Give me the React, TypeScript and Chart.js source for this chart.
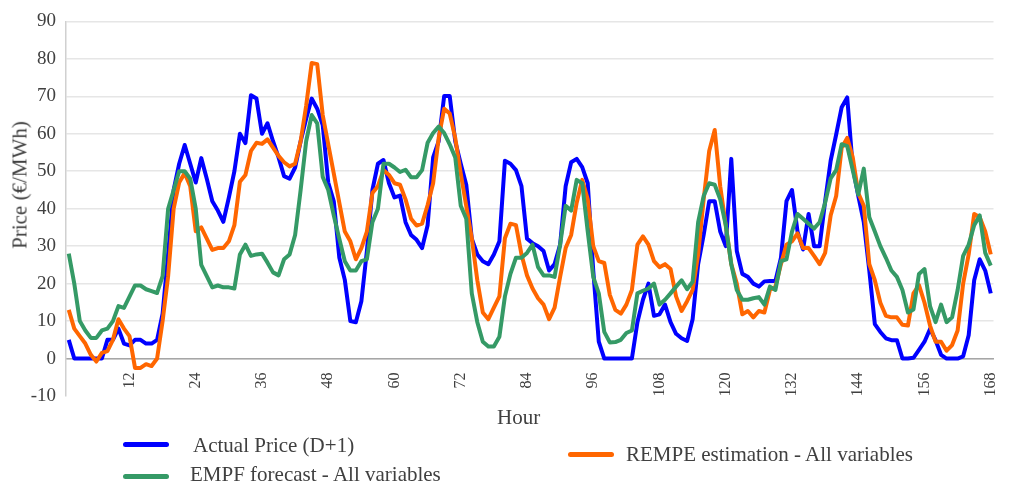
import React, { useEffect, useRef } from "react";
import { Chart, registerables } from "chart.js";

Chart.register(...registerables);

// hours 1..168 on the category axis
const hours = Array.from({ length: 168 }, (_, i) => String(i + 1));
const yTicks = [-10, 0, 10, 20, 30, 40, 50, 60, 70, 80, 90];

const actualPrice = [
  5, 0, 0, 0, 0, 0, 0, 5, 5, 8, 4, 3.5,
  5, 5, 4, 4, 5, 12, 28, 45, 52, 57, 52, 47,
  53.5, 48, 42, 39.5, 36.5, 43, 50, 60, 57.5, 70.3, 69.4, 60,
  62.8, 58, 53.7, 48.7, 48, 51, 58, 64, 69.4, 66.7, 62.3, 47,
  42, 27, 21, 10, 9.7, 15.3, 28.7, 45, 52, 53, 46.8, 43,
  43.5, 36.4, 33, 31.7, 29.5, 35.6, 53.7, 58, 70.1, 70.1, 58, 52,
  46.4, 32, 27.8, 26, 25.2, 27.8, 31.3, 52.8, 52, 50.3, 46, 32,
  30.8, 30, 28.7, 23.5, 25.2, 30.4, 46, 52.4, 53.3, 51.1, 46.8, 23.5,
  4.5, 0, 0, 0, 0, 0, 0, 9.7, 15.7, 20, 11.4, 11.8,
  14.4, 9.7, 6.6, 5.4, 4.7, 10.5, 25.2, 33, 42, 42, 33.9, 30,
  53.3, 28.7, 22.6, 21.8, 20, 19.2, 20.6, 20.7, 20.7, 26.9, 42, 45,
  33.9, 29.1, 38.6, 30, 30, 42, 52.8, 59.8, 67.1, 69.7, 51.1, 43.4,
  36.4, 23.5, 9.2, 7.1, 5.4, 4.9, 4.9, 0, 0, 0.2, 2.3, 4.5,
  7.9, 4.9, 1, 0, 0, 0, 0.6, 6.2, 20.9, 26.5, 23.5, 17.4,
];

const rempeEstimation = [
  13, 8, 6, 4, 1, -0.8, 1.5, 2, 5, 10.5, 8, 6,
  -2.5, -2.5, -1.5, -2, 0, 10, 22, 40, 47, 49.5, 46, 34,
  35, 32, 29, 29.5, 29.5, 31.3, 35.6, 47.2, 49, 55.4, 57.6, 57.3,
  58.5, 56.3, 54.1, 52.4, 51.3, 52, 58, 67.5, 78.9, 78.6, 65, 57.2,
  49.4, 41.6, 33.9, 31.3, 26.5, 29.5, 33.9, 44.2, 46, 50.3, 49, 46.8,
  46.4, 42.5, 37.3, 35.5, 36, 41, 46.8, 58.9, 66.7, 65.4, 58.9, 49.4,
  40.7, 32.1, 20.9, 12.3, 10.5, 13.6, 16.6, 32.1, 36, 35.6, 27.8, 22.2,
  18.7, 16.1, 14.4, 10.5, 13.6, 21.8, 29.5, 33, 41.6, 47.7, 42.5, 30,
  26, 25.5, 17, 13, 12, 14.4, 18.3, 30.4, 32.6, 30.4, 26, 24.4,
  25.2, 23.9, 16.6, 12.7, 15.3, 18.3, 27.8, 42.5, 55.4, 61, 46, 35.6,
  25.2, 20, 11.8, 12.7, 11, 12.7, 12.3, 18.3, 19.2, 25.2, 30.4, 31.3,
  33.4, 29.5, 29.5, 27.4, 25.2, 28.2, 38.2, 43.4, 56.3, 58.9, 53.7, 44.2,
  40.8, 25.2, 20.9, 14.9, 11.4, 11, 11, 9, 8.8, 17.4, 19.6, 14.9,
  8.8, 4.5, 4.5, 2.1, 3.6, 7.5, 20, 27.8, 38.6, 37.7, 33.9, 27.8,
];

const empfForecast = [
  28, 20, 10, 7.5, 5.5, 5.5, 7.5, 8, 10, 14, 13.5, 16.5,
  19.5, 19.5, 18.5, 18, 17.5, 22, 40, 45, 50, 50, 48, 40,
  25, 22, 19, 19.5, 19, 19, 18.7, 27.8, 30.4, 27.4, 27.8, 28,
  25.6, 23, 22.2, 26.5, 27.8, 33, 45, 58, 65, 62.8, 48.5, 45,
  38.2, 32, 26, 23.5, 23.5, 26, 26.5, 36.4, 40, 52, 52, 51,
  49.8, 50.4, 48.4, 48.4, 50.3, 57.6, 60.2, 61.9, 60.2, 57.2, 53.7, 40.8,
  37.3, 17.4, 9.7, 4.5, 3.2, 3.2, 5.8, 16.6, 22.6, 26.9, 26.9, 28.2,
  30.4, 24.4, 22.2, 22.2, 21.8, 30.4, 40.8, 39.5, 47.7, 46.8, 33.9, 21.8,
  17.4, 7.1, 4.3, 4.4, 5, 6.8, 7.5, 17.4, 18.1, 18.7, 20, 14.4,
  15.7, 17.4, 19.2, 20.9, 18.5, 20.5, 36.4, 43.4, 46.8, 46.4, 42.5, 35.6,
  25.2, 18.3, 15.7, 15.7, 16.1, 16.4, 14.4, 19.2, 18.3, 26, 26.5, 33.9,
  38.6, 37.3, 36, 34.7, 36.4, 41.6, 48.1, 50.3, 57.2, 56.7, 50.3, 43.8,
  50.7, 37.7, 33.9, 30, 26.9, 23.5, 21.8, 18.3, 12.3, 13.1, 22.6, 23.9,
  14, 9.7, 14.4, 9.7, 11, 18.3, 27.4, 30.4, 35.6, 38.2, 28.2, 24.8,
];

const BLUE = "#0000ff";
const GREEN = "#359a66";
const ORANGE = "#ff6600";
const FONT = '"Liberation Serif", "Times New Roman", serif';
const TEXT = "#404040";

const legendItems = [
  { label: "Actual Price (D+1)", color: BLUE, x: 123, y: 444, tx: 193, ty: 435 },
  { label: "EMPF forecast - All variables", color: GREEN, x: 123, y: 476, tx: 190, ty: 464 },
  { label: "REMPE estimation - All variables", color: ORANGE, x: 568, y: 454, tx: 626, ty: 444 },
];

const App = () => {
  const canvasRef = useRef<HTMLCanvasElement>(null);

  useEffect(() => {
    const line = (label: string, data: number[], color: string, order: number) => ({
      label,
      data,
      borderColor: color,
      backgroundColor: color,
      borderWidth: 4,
      pointRadius: 0,
      tension: 0,
      borderJoinStyle: "round",
      order,
    });

    const chart = new Chart(canvasRef.current as HTMLCanvasElement, {
      type: "line",
      data: {
        labels: hours,
        datasets: [
          line("EMPF forecast - All variables", empfForecast, GREEN, 0),
          line("REMPE estimation - All variables", rempeEstimation, ORANGE, 1),
          line("Actual Price (D+1)", actualPrice, BLUE, 2),
        ] as any,
      },
      options: {
        animation: false,
        responsive: false,
        layout: { padding: { left: 0, right: 14, top: 10, bottom: 97 } },
        plugins: { legend: { display: false }, tooltip: { enabled: false } },
        scales: {
          x: {
            type: "category",
            position: { y: 0 } as any,
            offset: true,
            grid: { display: false, drawTicks: false },
            border: { display: true, color: "#a6a6a6", width: 1.5 },
            ticks: {
              autoSkip: false,
              minRotation: 90,
              maxRotation: 90,
              padding: 14,
              color: TEXT,
              font: { family: FONT, size: 16 },
              callback: (_v: any, index: number) => {
                const h = index + 1;
                return h % 12 === 0 ? String(h) : "";
              },
            },
          },
          y: {
            position: "left",
            min: yTicks[0],
            max: yTicks[yTicks.length - 1],
            afterFit: (scale: any) => {
              scale.width = 66;
            },
            afterBuildTicks: (scale: any) => {
              scale.ticks = yTicks.map((v) => ({ value: v }));
            },
            grid: {
              drawTicks: false,
              lineWidth: 1.5,
              color: (ctx: any) =>
                ctx.tick && ctx.tick.value === -10 ? "rgba(0,0,0,0)" : "#e6e6e6",
            },
            border: { display: true, color: "#d0d0d0", width: 1.5 },
            ticks: {
              padding: 10,
              color: TEXT,
              font: { family: FONT, size: 19 },
            },
          },
        },
      },
    });

    return () => {
      chart.destroy();
    };
  }, []);

  return (
    <div
      style={{
        position: "fixed",
        left: 0,
        top: 0,
        width: 1024,
        height: 493,
        background: "#ffffff",
        fontFamily: FONT,
        color: TEXT,
        overflow: "hidden",
      }}
    >
      <canvas
        ref={canvasRef}
        width={1024}
        height={493}
        style={{ position: "absolute", left: 0, top: 0, width: 1024, height: 493 }}
      />
      <div
        style={{
          position: "absolute",
          left: 19.5,
          top: 184.5,
          transform: "translate(-50%, -50%) rotate(-90deg)",
          whiteSpace: "nowrap",
          fontSize: 21,
          lineHeight: "21px",
        }}
      >
        Price (€/MWh)
      </div>
      <div
        style={{
          position: "absolute",
          left: 497,
          top: 407,
          whiteSpace: "nowrap",
          fontSize: 21,
          lineHeight: "21px",
        }}
      >
        Hour
      </div>
      {legendItems.map((item) => (
        <React.Fragment key={item.label}>
          <div
            style={{
              position: "absolute",
              left: item.x,
              top: item.y - 2.5,
              width: 46,
              height: 5,
              borderRadius: 3,
              background: item.color,
            }}
          />
          <div
            style={{
              position: "absolute",
              left: item.tx,
              top: item.ty,
              whiteSpace: "nowrap",
              fontSize: 21,
              lineHeight: "21px",
            }}
          >
            {item.label}
          </div>
        </React.Fragment>
      ))}
    </div>
  );
};

export default App;
